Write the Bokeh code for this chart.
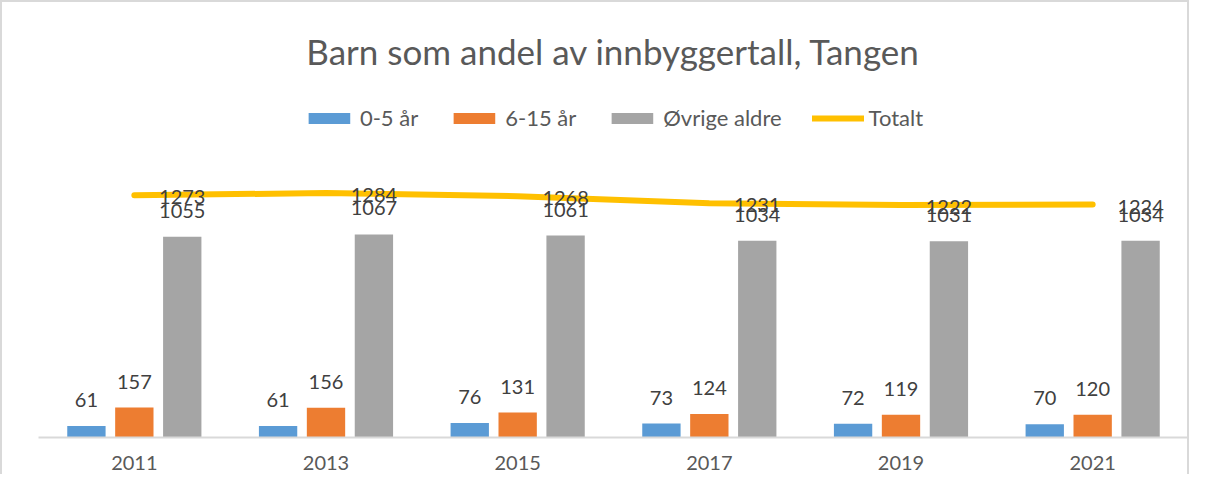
from bokeh.plotting import figure
from bokeh.models import ColumnDataSource, Range1d, FactorRange, Legend, LegendItem, Title
from bokeh.transform import dodge
from bokeh.core.properties import value
from bokeh.embed import file_html
from bokeh.resources import INLINE

years = ["2011", "2013", "2015", "2017", "2019", "2021"]
age_0_5 = [61, 61, 76, 73, 72, 70]
age_6_15 = [157, 156, 131, 124, 119, 120]
other_ages = [1055, 1067, 1061, 1034, 1031, 1034]
total = [1273, 1284, 1268, 1231, 1222, 1224]

FONT = "Lato"
TXT = "#595959"
LBL = "#404040"

src = ColumnDataSource(dict(
    year=years,
    a=age_0_5, b=age_6_15, c=other_ages, t=total,
    a_s=[str(v) for v in age_0_5], b_s=[str(v) for v in age_6_15],
    c_s=[str(v) for v in other_ages], t_s=[str(v) for v in total],
))

p = figure(width=1189, height=474, output_backend="svg", toolbar_location=None,
           x_range=FactorRange(*years, range_padding=0), y_range=Range1d(0, 1865),
           min_border_left=36, min_border_right=3, min_border_bottom=0, min_border_top=80)
p.styles = {"border-left": "2px solid #d9d9d9", "border-top": "2px solid #d9d9d9",
            "border-right": "2px solid #d9d9d9"}
p.outline_line_color = None
p.xgrid.grid_line_color = None
p.ygrid.grid_line_color = None
p.yaxis.visible = False

p.title = Title(text="Barn som andel av innbyggertall, Tangen", align="center",
                text_font=FONT, text_font_size="35px", text_font_style="normal",
                text_color=TXT, standoff=21, offset=0)

xa = p.xaxis[0]
xa.axis_line_color = "#d9d9d9"
xa.axis_line_width = 2
xa.major_tick_line_color = None
xa.minor_tick_line_color = None
xa.major_tick_out = 0
xa.major_tick_in = 0
xa.minor_tick_out = 0
xa.major_label_text_font = FONT
xa.major_label_text_font_size = "20px"
xa.major_label_text_color = TXT
xa.major_label_standoff = 18
xa.axis_label = " "
xa.axis_label_text_font_size = "1px"
xa.axis_label_standoff = 0

r_a = p.vbar(x=dodge("year", -0.25, range=p.x_range), top="a", width=0.2, source=src,
             fill_color="#5B9BD5", line_color=None)
r_b = p.vbar(x=dodge("year", 0.0, range=p.x_range), top="b", width=0.2, source=src,
             fill_color="#ED7D31", line_color=None)
r_c = p.vbar(x=dodge("year", 0.25, range=p.x_range), top="c", width=0.2, source=src,
             fill_color="#A5A5A5", line_color=None)
r_t = p.line(x="year", y="t", source=src, line_color="#FFC000", line_width=6,
             line_cap="round", line_join="round")

common = dict(source=src, text_font=value(FONT), text_font_size="20px", text_color=LBL,
              text_align="center", text_baseline="alphabetic")
p.text(x=dodge("year", -0.25, range=p.x_range), y="a", text="a_s", y_offset=-26, **common)
p.text(x=dodge("year", 0.0, range=p.x_range), y="b", text="b_s", y_offset=-26, **common)
p.text(x=dodge("year", 0.25, range=p.x_range), y="c", text="c_s", y_offset=-26, **common)
p.text(x=dodge("year", 0.25, range=p.x_range), y="t", text="t_s", y_offset=2, **common)

legend = Legend(items=[LegendItem(label="0-5 år", renderers=[r_a]),
                       LegendItem(label="6-15 år", renderers=[r_b]),
                       LegendItem(label="Øvrige aldre", renderers=[r_c]),
                       LegendItem(label="Totalt", renderers=[r_t])],
                orientation="horizontal", location="top_center",
                glyph_width=52, glyph_height=14, label_standoff=5, spacing=30,
                padding=0, margin=22, border_line_color=None, background_fill_alpha=0,
                label_text_font=FONT, label_text_font_size="22px", label_text_color=TXT)
p.add_layout(legend, "center")

open("out.html", "w").write(file_html(p, INLINE))
